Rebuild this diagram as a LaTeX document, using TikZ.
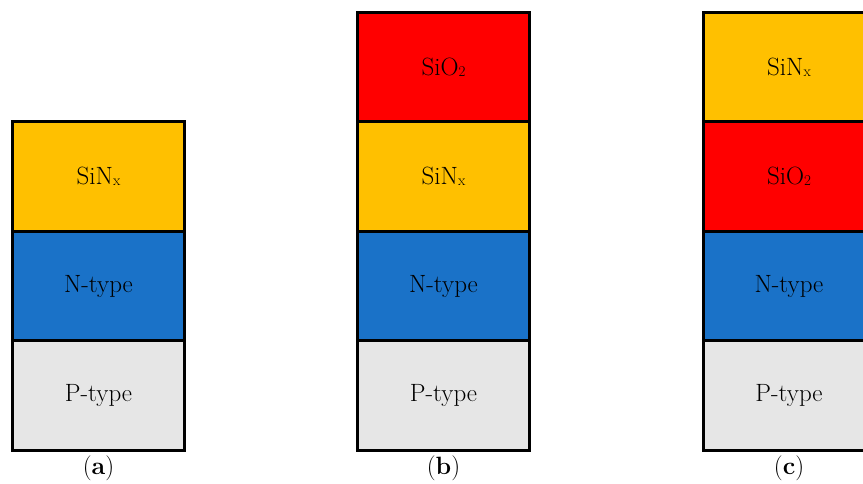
\documentclass[tikz,border=0pt]{standalone}
\usepackage{fontspec}
\definecolor{sinx}{HTML}{FFC000}
\definecolor{sio}{HTML}{FF0000}
\definecolor{ntype}{HTML}{1A72C8}
\definecolor{ptype}{HTML}{E6E6E6}
\newcommand{\lsub}[1]{\raisebox{-1pt}{\fontsize{15}{15}\selectfont #1}}
\tikzset{
  layer/.style={draw=black, line width=3pt, rectangle, minimum width=172pt, minimum height=109.5pt,
    inner sep=0pt, outer sep=0pt, font=\fontsize{25}{30}\selectfont, text=black},
  sinxl/.style={layer, fill=sinx},
  siol/.style={layer, fill=sio},
  nl/.style={layer, fill=ntype},
  pl/.style={layer, fill=ptype},
  captext/.style={font=\fontsize{25}{30}\selectfont, inner sep=0pt}
}
\begin{document}
\begin{tikzpicture}[x=1pt,y=-1pt]
\path[use as bounding box] (0,0) rectangle (863,484);
\clip (0,0) rectangle (863,484);
% stack a
\node[pl]   (ap) at (98.5,395.5) {P-type};
\node[nl]   (an) at (98.5,286) {N-type};
\node[sinxl] (as) at (98.5,176.5) {SiN\lsub{x}};
% stack b
\node[pl]   (bp) at (443.5,395.5) {P-type};
\node[nl]   (bn) at (443.5,286) {N-type};
\node[sinxl] (bs) at (443.5,176.5) {SiN\lsub{x}};
\node[siol] (bo) at (443.5,67) {SiO\lsub{2}};
% stack c
\node[pl]   (cp) at (789,395.5) {P-type};
\node[nl]   (cn) at (789,286) {N-type};
\node[siol] (co) at (789,176.5) {SiO\lsub{2}};
\node[sinxl] (cs) at (789,67) {SiN\lsub{x}};
% captions
\node[captext] (la) at (98.5,468) {(\textbf{a})};
\node[captext] (lb) at (443.5,468) {(\textbf{b})};
\node[captext] (lc) at (789,468) {(\textbf{c})};
\end{tikzpicture}
\end{document}
